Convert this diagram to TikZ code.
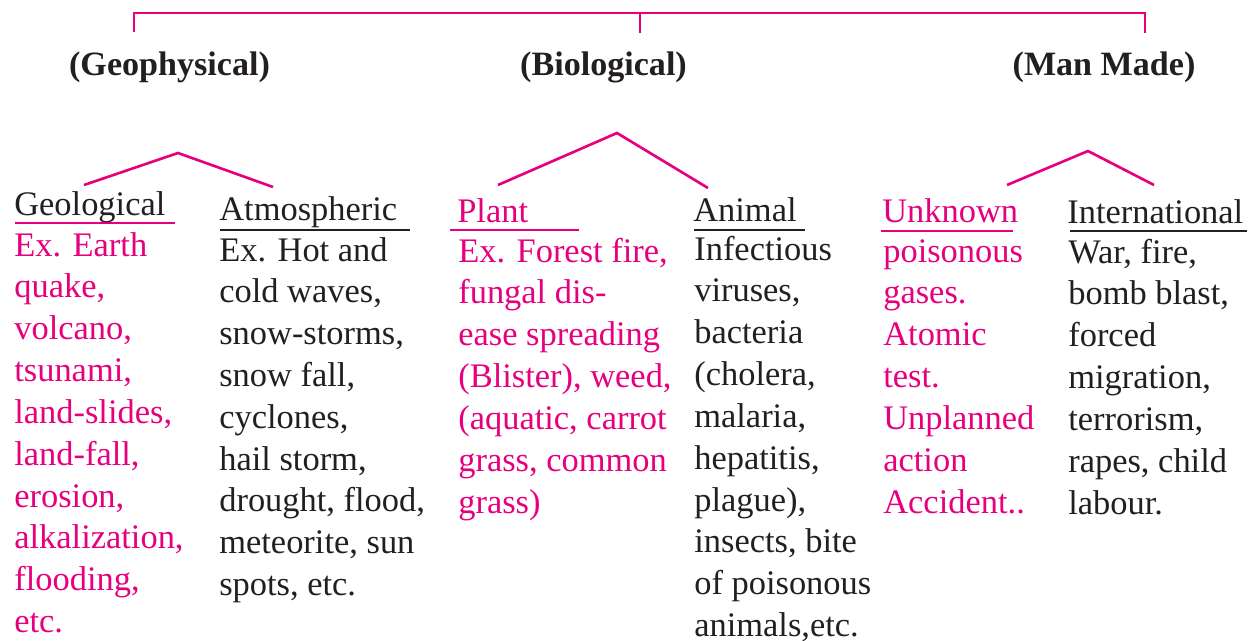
\documentclass[tikz,border=0pt]{standalone}
\usepackage{fontspec}
\setmainfont{Liberation Serif}
\usetikzlibrary{calc}
\definecolor{hazpink}{RGB}{230,0,126}
\definecolor{hazink}{RGB}{35,31,32}
\begin{document}
\begin{tikzpicture}[x=0.02cm, y=-0.02cm, line width=1.5pt,
 head/.style={anchor=base,inner sep=0,text=hazink,font=\fontsize{19.4}{23.8}\selectfont\bfseries},
 lbl/.style={anchor=base west,inner sep=0,font=\fontsize{19.6}{23.8}\selectfont},
 txt/.style={lbl,align=left},
 pinkline/.style={draw=hazpink},
 inkline/.style={draw=hazink}]
\useasboundingbox (0,0) rectangle (1253,640);
% top bracket
\coordinate (topL) at (134,32);\coordinate (topM) at (640,33);\coordinate (topR) at (1145,33);
\draw[pinkline] (topL) -- ++(0,-19) -| (topR);
\draw[pinkline] (topM) -- ++(0,-20);
% three groups
\node[head] (gp) at (169.5,75) {(Geophysical)};
\node[head] (bi) at (603.5,75) {(Biological)};
\node[head] (mm) at (1104,75) {(Man Made)};
% forks
\coordinate (gpL) at (84,185);\coordinate (gpF) at (178,153);\coordinate (gpR) at (273,187);
\coordinate (biL) at (498,185);\coordinate (biF) at (617,133);\coordinate (biR) at (708,188);
\coordinate (mmL) at (1007,185);\coordinate (mmF) at (1088,151);\coordinate (mmR) at (1154,185);
\draw[pinkline] (gpL) -- (gpF) -- (gpR);
\draw[pinkline] (biL) -- (biF) -- (biR);
\draw[pinkline] (mmL) -- (mmF) -- (mmR);
% sub heads
\node[lbl,text=hazink] (gl) at (13,215) {Geological};
\node[lbl,text=hazink] (at) at (218,220) {Atmospheric};
\node[lbl,text=hazpink] (pl) at (456,222) {Plant};
\node[lbl,text=hazink] (an) at (692,221) {Animal};
\node[lbl,text=hazpink] (un) at (881,222) {Unknown};
\node[lbl,text=hazink] (intl) at (1066,223) {International};
\draw[pinkline] ([shift={(2,8)}]gl.base west) -- ++(160,0);
\draw[inkline] ([shift={(2,10)}]at.base west) -- ++(190,0);
\draw[pinkline] ([shift={(-6,8)}]pl.base west) -- ++(129,0);
\draw[inkline] ([shift={(2,9)}]an.base west) -- ++(111,0);
\draw[pinkline] ([shift={(0,9)}]un.base west) -- ++(132,0);
\draw[inkline] ([shift={(4,8)}]intl.base west) -- ++(177,0);
% examples (placed at the baseline of their last line)
\node[txt,text=hazpink] (glx) at (13,632.5) {Ex. Earth\\quake,\\volcano,\\tsunami,\\land-slides,\\land-fall,\\erosion,\\alkalization,\\flooding,\\etc.};
\node[txt,text=hazink] (atx) at (218,595.6) {Ex. Hot and\\cold waves,\\snow-storms,\\snow fall,\\cyclones,\\hail storm,\\drought, flood,\\meteorite, sun\\spots, etc.};
\node[txt,text=hazpink] (plx) at (457,513) {Ex. Forest fire,\\fungal dis-\\ease spreading\\(Blister), weed,\\(aquatic, carrot\\grass, common\\grass)};
\node[txt,text=hazink] (anx) at (693,636.5) {Infectious\\viruses,\\bacteria\\(cholera,\\malaria,\\hepatitis,\\plague),\\insects, bite\\of poisonous\\animals,etc.};
\node[txt,text=hazpink] (unx) at (882,513) {poisonous\\gases.\\Atomic\\test.\\Unplanned\\action\\Accident..};
\node[txt,text=hazink] (intlx) at (1067,514) {War, fire,\\bomb blast,\\forced\\migration,\\terrorism,\\rapes, child\\labour.};
\end{tikzpicture}
\end{document}
